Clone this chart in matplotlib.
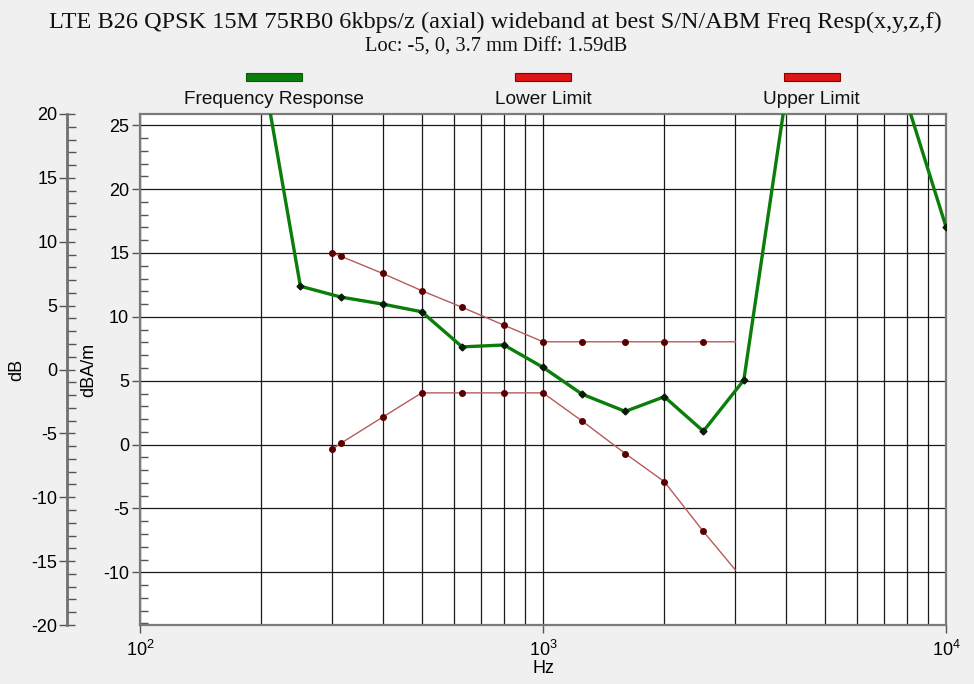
import matplotlib
matplotlib.use("Agg")
import matplotlib.pyplot as plt
from matplotlib.ticker import MultipleLocator, LogLocator, NullFormatter
from matplotlib.patches import Rectangle

plt.rcParams["axes.unicode_minus"] = False

# ---- data ----
freq_resp_hz = [200, 250, 315, 400, 500, 630, 800, 1000, 1250, 1600, 2000, 2500, 3150,
                4000, 5000, 6300, 8000, 10000]
freq_resp_db = [30.0, 12.4, 11.55, 11.0, 10.4, 7.65, 7.8, 6.05, 3.95, 2.6, 3.75, 1.05, 5.05,
                27.2, 34.0, 34.0, 26.8, 17.05]

limit_hz = [300, 315, 400, 500, 630, 800, 1000, 1250, 1600, 2000, 2500, 3000]
upper_limit = [15.0, 14.75, 13.4, 12.05, 10.75, 9.35, 8.05, 8.05, 8.05, 8.05, 8.05, 8.05]
lower_limit = [-0.35, 0.1, 2.15, 4.05, 4.05, 4.05, 4.05, 1.85, -0.7, -2.9, -6.8, -9.8]

legend_labels = ["Frequency Response", "Lower Limit", "Upper Limit"]
title = "LTE B26 QPSK 15M 75RB0 6kbps/z (axial) wideband at best S/N/ABM Freq Resp(x,y,z,f)"
subtitle = "Loc: -5, 0, 3.7 mm Diff: 1.59dB"

# ---- style ----
W, H = 974, 684
PX = 72 / 100  # points per pixel
BG = "#f0f0f0"
GREEN = "#0a7d0a"
LIM_LINE = "#b85a5a"
LIM_MARK = "#5a0000"
SANS = "Liberation Sans"
SERIF = "Liberation Serif"

fig = plt.figure(figsize=(W / 100, H / 100), dpi=100, facecolor=BG)
L, R, T, B = 140, 946, 114, 625
ax = fig.add_axes([L / W, 1 - B / H, (R - L) / W, (B - T) / H])
ax.set_facecolor("white")

ax.set_xscale("log")
ax.set_xlim(100, 10000)
ax.set_ylim(-14.12, 25.88)

# grid
ax.xaxis.set_major_locator(LogLocator(base=10, numticks=10))
ax.xaxis.set_minor_locator(LogLocator(base=10, subs=range(2, 10), numticks=20))
ax.xaxis.set_minor_formatter(NullFormatter())
ax.yaxis.set_major_locator(MultipleLocator(5))
ax.yaxis.set_minor_locator(MultipleLocator(1))
ax.grid(True, which="major", axis="y", color="#1a1a1a", lw=0.9)
ax.grid(True, which="both", axis="x", color="#1a1a1a", lw=0.9)
ax.set_axisbelow(True)

for s in ax.spines.values():
    s.set_color("#7a7a7a")
    s.set_linewidth(1.6)

ax.tick_params(axis="y", which="major", direction="out", length=8 * PX, width=1, color="#555555",
               labelsize=13, pad=2)
ax.tick_params(axis="y", which="minor", direction="in", length=8 * PX, width=1, color="#555555")
ax.tick_params(axis="x", which="major", direction="out", length=8 * PX, width=1, color="#555555",
               labelsize=13, pad=5)
ax.tick_params(axis="x", which="minor", length=0)
for lab in ax.get_xticklabels() + ax.get_yticklabels():
    lab.set_fontfamily(SANS)

# data lines
ax.plot(limit_hz, upper_limit, color=LIM_LINE, lw=1.0, marker="o", ms=4,
        mfc=LIM_MARK, mec=LIM_MARK, markevery=list(range(len(limit_hz) - 1)), zorder=3)
ax.plot(limit_hz, lower_limit, color=LIM_LINE, lw=1.0, marker="o", ms=4,
        mfc=LIM_MARK, mec=LIM_MARK, markevery=list(range(len(limit_hz) - 1)), zorder=3)
ax.plot(freq_resp_hz, freq_resp_db, color=GREEN, lw=2.4, marker="D", ms=3.5,
        mfc="#0a1a0a", mec="#0a1a0a", zorder=4)

ax.set_xlabel("Hz", fontsize=13, family=SANS, labelpad=0)
ax.set_ylabel("dBA/m", fontsize=13, family=SANS)
ax.yaxis.set_label_coords((97 - L) / (R - L), 0.5)

# outer dB axis
ax2 = ax.twinx()
ax2.patch.set_visible(False)
ax2.set_ylim(-20, 20)
for k in ["right", "top", "bottom"]:
    ax2.spines[k].set_visible(False)
ax2.spines["left"].set_visible(True)
ax2.spines["left"].set_position(("outward", (L - 67) * PX))
ax2.spines["left"].set_color("#707070")
ax2.spines["left"].set_linewidth(2)
ax2.yaxis.set_ticks_position("left")
ax2.yaxis.set_label_position("left")
ax2.yaxis.set_major_locator(MultipleLocator(5))
ax2.yaxis.set_minor_locator(MultipleLocator(1))
ax2.tick_params(axis="y", which="major", direction="inout", length=16 * PX, width=1,
                color="#555555", labelsize=13, pad=1)
ax2.tick_params(axis="y", which="minor", direction="in", length=9 * PX, width=1, color="#555555")
for lab in ax2.get_yticklabels():
    lab.set_fontfamily(SANS)
ax2.set_ylabel("dB", fontsize=13, family=SANS)
ax2.yaxis.set_label_coords((25 - L) / (R - L), 0.5)

# titles
fig.text(495 / W, 1 - 22 / H, title, ha="center", va="center", fontsize=17.5, family=SERIF,
         color="#111111")
fig.text(496 / W, 1 - 47 / H, subtitle, ha="center", va="center", fontsize=14.8, family=SERIF,
         color="#111111")

# legend (bars above labels)
leg_colors = [GREEN, "#dd1515", "#dd1515"]
leg_edges = ["#0a5a0a", "#8a0000", "#8a0000"]
for i, (lab, c, e) in enumerate(zip(legend_labels, leg_colors, leg_edges)):
    cx = L + (R - L) * (2 * i + 1) / 6
    fig.add_artist(Rectangle(((cx - 28) / W, 1 - 81 / H), 56 / W, 8 / H, transform=fig.transFigure,
                             facecolor=c, edgecolor=e, lw=0.8))
    fig.text(cx / W, 1 - 100 / H, lab, ha="center", va="center", fontsize=13.7, family=SANS,
             color="#111111")

fig.savefig("out.png", dpi=100, facecolor=BG)
